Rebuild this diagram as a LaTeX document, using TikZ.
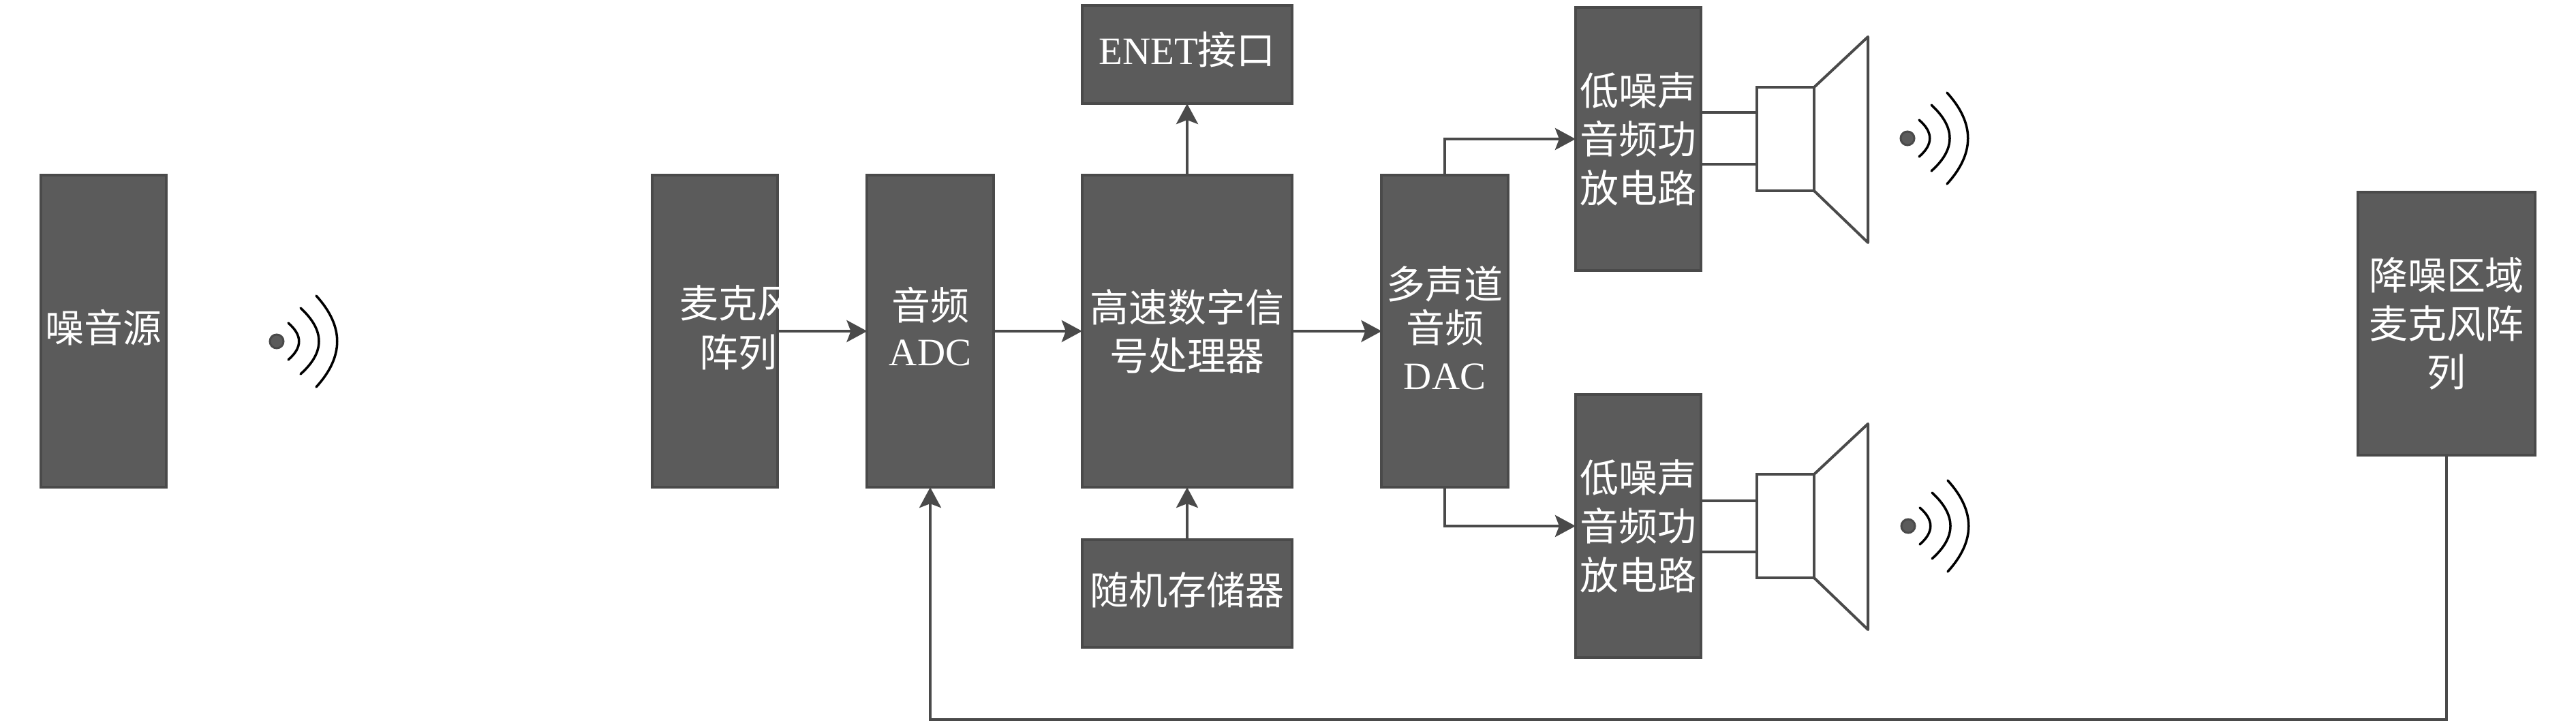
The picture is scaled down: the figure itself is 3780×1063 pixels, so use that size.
\documentclass[tikz,border=0pt]{standalone}
\usepackage{fontspec}
\setmainfont{Liberation Serif}
\newfontfamily\cjk{Noto Sans CJK SC}
\usetikzlibrary{arrows.meta}
\setlength{\lineskiplimit}{-100pt}
\newcommand\liftup[2]{\raisebox{#1}[\height][\depth]{#2}}
\definecolor{boxfill}{HTML}{5B5B5B}
\definecolor{boxline}{HTML}{4A4A4A}
\tikzset{
  box/.style={draw=boxline,fill=boxfill,line width=.04cm,text=white,align=center,inner sep=0pt,outer sep=0pt,
    font=\fontsize{16.2}{20.3}\selectfont},
  boxtext/.style={text=white,align=center,inner sep=0pt,font=\fontsize{16.2}{20.3}\selectfont},
  conn/.style={draw=boxline,line width=.04cm,-{Stealth[length=.30cm,width=.32cm,inset=.06cm]}},
  plainline/.style={draw=boxline,line width=.04cm},
  spkbody/.style={draw=boxline,fill=white,line width=.04cm,inner sep=0pt,outer sep=0pt,minimum width=.83cm,minimum height=1.51cm},
  wavepic/.pic={
    \draw[draw=boxline,fill=boxfill,line width=.03cm] (0,0) circle[radius=.1cm];
    \draw[black,line width=.035cm,line cap=round] (17,-27) .. controls (38,-9) and (38,9) .. (17,27);
    \draw[black,line width=.035cm,line cap=round] (35,-49) .. controls (71,-16) and (71,16) .. (35,48);
    \draw[black,line width=.035cm,line cap=round] (58,-67) .. controls (99,-22) and (99,22) .. (58,67);
  }
}
\begin{document}
\begin{tikzpicture}[x=.01cm,y=-.01cm]
\useasboundingbox (0,0) rectangle (3780,1063);
\node[box,minimum width=1.84cm,minimum height=4.58cm] (noise) at (152,486) {\liftup{1.4pt}{\cjk 噪音源}};
\node[box,minimum width=1.84cm,minimum height=4.58cm] (mic) at (1049,486) {};
\node[boxtext] (mictext) at (1083,481) {{\cjk 麦克风}\\{\cjk 阵列}};
\node[box,minimum width=1.85cm,minimum height=4.58cm] (adc) at (1365,486) {\liftup{1.4pt}{\cjk 音频}\\\liftup{2.7pt}{ADC}};
\node[box,minimum width=3.08cm,minimum height=4.58cm] (dsp) at (1742,486) {{\cjk 高速数字信}\\{\cjk 号处理器}};
\node[box,minimum width=3.08cm,minimum height=1.44cm] (enet) at (1742,80) {\liftup{2pt}{ENET{\cjk 接口}}};
\node[box,minimum width=3.08cm,minimum height=1.57cm] (ram) at (1742,871) {\liftup{1.4pt}{\cjk 随机存储器}};
\node[box,minimum width=1.85cm,minimum height=4.58cm] (dac) at (2120,486) {{\cjk 多声道}\\\liftup{2pt}{\cjk 音频}\\\liftup{2.8pt}{DAC}};
\node[box,minimum width=1.84cm,minimum height=3.85cm] (amp1) at (2404,204) {{\cjk 低噪声}\\{\cjk 音频功}\\{\cjk 放电路}};
\node[box,minimum width=1.84cm,minimum height=3.85cm] (amp2) at (2404,772) {{\cjk 低噪声}\\{\cjk 音频功}\\{\cjk 放电路}};
\node[box,minimum width=2.60cm,minimum height=3.86cm] (den) at (3590,475) {{\cjk 降噪区域}\\{\cjk 麦克风阵}\\{\cjk 列}};

\coordinate (cone1a) at (2741,54);
\coordinate (cone1b) at (2741,356);
\coordinate (cone2a) at (2741,622);
\coordinate (cone2b) at (2741,924);
\node[spkbody] (spk1) at (2620,204) {};
\node[spkbody] (spk2) at (2620,772) {};
\draw[plainline,line join=round] (spk1.north east) -- (cone1a) -- (cone1b) -- (spk1.south east);
\draw[plainline,line join=round] (spk2.north east) -- (cone2a) -- (cone2b) -- (spk2.south east);

\coordinate (w1a) at (2540,165);
\coordinate (w1b) at (2540,241);
\coordinate (w2a) at (2540,735);
\coordinate (w2b) at (2540,810);
\draw[plainline] (amp1.east |- w1a) -- (spk1.west |- w1a);
\draw[plainline] (amp1.east |- w1b) -- (spk1.west |- w1b);
\draw[plainline] (amp2.east |- w2a) -- (spk2.west |- w2a);
\draw[plainline] (amp2.east |- w2b) -- (spk2.west |- w2b);

\draw[conn] (mic.east) -- (adc.west);
\draw[conn] (adc.east) -- (dsp.west);
\draw[conn] (dsp.east) -- (dac.west);
\draw[conn] (dsp.north) -- (enet.south);
\draw[conn] (ram.north) -- (dsp.south);
\draw[conn] (dac.north) |- (amp1.west);
\draw[conn] (dac.south) |- (amp2.west);
\coordinate (bus) at (2400,1056);
\draw[conn] (den.south) |- (bus) -| (adc.south);

\pic at (406,501) {wavepic};
\pic at (2799,203) {wavepic};
\pic at (2800,772) {wavepic};
\end{tikzpicture}
\end{document}
